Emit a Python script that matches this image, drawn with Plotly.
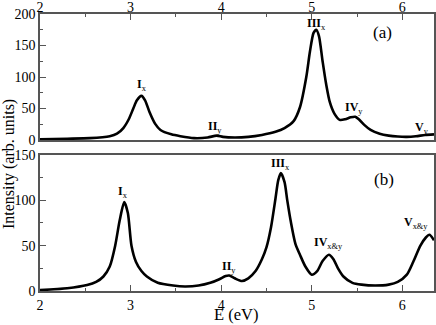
import plotly.graph_objects as go

# panel (a): absorption spectrum
top_e = [2.0, 2.3, 2.55, 2.77, 2.85, 2.92, 2.98, 3.03, 3.07, 3.12, 3.16, 3.21, 3.27,
         3.33, 3.45, 3.55, 3.7, 3.85, 3.95, 4.02, 4.15, 4.3, 4.45, 4.6, 4.7, 4.8,
         4.87, 4.94, 4.98, 5.02, 5.05, 5.08, 5.12, 5.16, 5.2, 5.25, 5.31, 5.37,
         5.43, 5.48, 5.52, 5.58, 5.65, 5.75, 5.85, 5.95, 6.05, 6.15, 6.25, 6.35]
top_int = [1, 2, 3, 6, 10, 19, 33, 50, 63, 70, 63, 44, 26,
           16, 9, 6, 3, 4, 7, 5, 4, 5, 8, 13, 19, 30,
           52, 100, 140, 170, 175, 165, 125, 88, 60, 42, 32, 33,
           36, 37, 33, 24, 16, 10, 7, 5.5, 5, 6, 8, 9]

# panel (b)
bot_e = [2.0, 2.3, 2.52, 2.62, 2.7, 2.77, 2.83, 2.88, 2.93, 2.97, 3.01, 3.06, 3.12,
         3.18, 3.3, 3.47, 3.6, 3.75, 3.88, 3.98, 4.05, 4.09, 4.15, 4.23, 4.3, 4.38,
         4.45, 4.5, 4.55, 4.6, 4.63, 4.66, 4.7, 4.73, 4.77, 4.82, 4.87, 4.93, 5.0, 5.06,
         5.12, 5.19, 5.24, 5.29, 5.35, 5.45, 5.55, 5.7, 5.85, 5.95, 6.05, 6.12, 6.2,
         6.26, 6.3, 6.35]
bot_int = [1, 3, 6.5, 10, 16, 27, 50, 78, 98, 86, 50, 32, 22,
           16, 9, 6, 5, 6, 9, 13, 16.5, 17, 14, 11, 14, 22,
           35, 48, 70, 102, 122, 130, 120, 100, 76, 52, 40, 27, 18, 22,
           33, 40, 35, 25, 16, 9, 7, 6, 7, 10, 18, 32, 50,
           59, 62, 56]

# peak labels
top_lab = ["<b>I</b><sub>x</sub>", "<b>II</b><sub>y</sub>", "<b>III</b><sub>x</sub>",
           "<b>IV</b><sub>y</sub>", "<b>V</b><sub>y</sub>"]
top_lab_e = [3.13, 3.93, 5.05, 5.47, 6.22]
top_lab_v = [87, 20, 184, 51, 19]

bot_lab = ["<b>I</b><sub>x</sub>", "<b>II</b><sub>y</sub>", "<b>III</b><sub>x</sub>",
           "<b>IV</b><sub>x&y</sub>", "<b>V</b><sub>x&y</sub>"]
bot_lab_e = [2.92, 4.09, 4.66, 5.19, 6.15]
bot_lab_v = [109, 27, 140, 53, 75]

x_ticks = [2, 3, 4, 5, 6]
FONT = "Times New Roman, Liberation Serif, Tinos, serif"
frame = "#555555"

fig = go.Figure()
fig.add_trace(go.Scatter(x=top_e, y=top_int, mode="lines", xaxis="x", yaxis="y",
                         line=dict(color="black", width=2.6, shape="spline", smoothing=0.7),
                         showlegend=False))
fig.add_trace(go.Scatter(x=bot_e, y=bot_int, mode="lines", xaxis="x2", yaxis="y2",
                         line=dict(color="black", width=2.6, shape="spline", smoothing=0.7),
                         showlegend=False))

tick_font = dict(family=FONT, size=14, color="black")
common_x = dict(range=[2, 6.35], tickvals=x_ticks, ticks="inside", ticklen=6,
                tickcolor=frame, showline=True, linecolor=frame, linewidth=1.5,
                mirror=True, showgrid=False, zeroline=False, automargin=False,
                minor=dict(tick0=2, dtick=0.5, ticks="inside", ticklen=3, tickcolor=frame),
                tickfont=tick_font)
common_y = dict(ticks="inside", ticklen=6, tickcolor=frame, dtick=50,
                showline=True, linecolor=frame, linewidth=1.5, mirror=True,
                showgrid=False, zeroline=False, automargin=False,
                minor=dict(dtick=25, ticks="inside", ticklen=3, tickcolor=frame),
                tickfont=tick_font)

annotations = []
for t, e, v in zip(top_lab, top_lab_e, top_lab_v):
    annotations.append(dict(text=t, x=e, y=v, xref="x", yref="y", showarrow=False,
                            font=dict(family=FONT, size=12, color="black")))
for t, e, v in zip(bot_lab, bot_lab_e, bot_lab_v):
    annotations.append(dict(text=t, x=e, y=v, xref="x2", yref="y2", showarrow=False,
                            font=dict(family=FONT, size=12, color="black")))
annotations.append(dict(text="(a)", x=5.78, y=170, xref="x", yref="y", showarrow=False,
                        font=dict(family=FONT, size=17, color="black")))
annotations.append(dict(text="(b)", x=5.8, y=123, xref="x2", yref="y2", showarrow=False,
                        font=dict(family=FONT, size=17, color="black")))
annotations.append(dict(text="Intensity (arb. units)", x=-0.079, y=0.458, xref="paper",
                        yref="paper", textangle=-90, showarrow=False,
                        xanchor="center", yanchor="middle",
                        font=dict(family=FONT, size=16, color="black")))
annotations.append(dict(text="E (eV)", x=0.497, y=-0.085, xref="paper", yref="paper",
                        showarrow=False, xanchor="center", yanchor="middle",
                        font=dict(family=FONT, size=16.5, color="black")))

fig.update_layout(
    width=436, height=325,
    margin=dict(l=40, r=2, t=14, b=34),
    plot_bgcolor="white", paper_bgcolor="white",
    font=dict(family=FONT),
    xaxis=dict(common_x, domain=[0, 1], anchor="y", side="top", ticklabelstandoff=-5),
    yaxis=dict(common_y, domain=[0.545, 1], anchor="x", range=[0, 200]),
    xaxis2=dict(common_x, domain=[0, 1], anchor="y2", side="bottom", matches="x"),
    yaxis2=dict(common_y, domain=[0, 0.491], anchor="x2", range=[0, 150]),
    annotations=annotations,
)

# drop the default page margin so the figure sits at the window's corner
fig.write_html("out.html", config={"displayModeBar": False},
               post_script="document.body.style.margin = '0';")
